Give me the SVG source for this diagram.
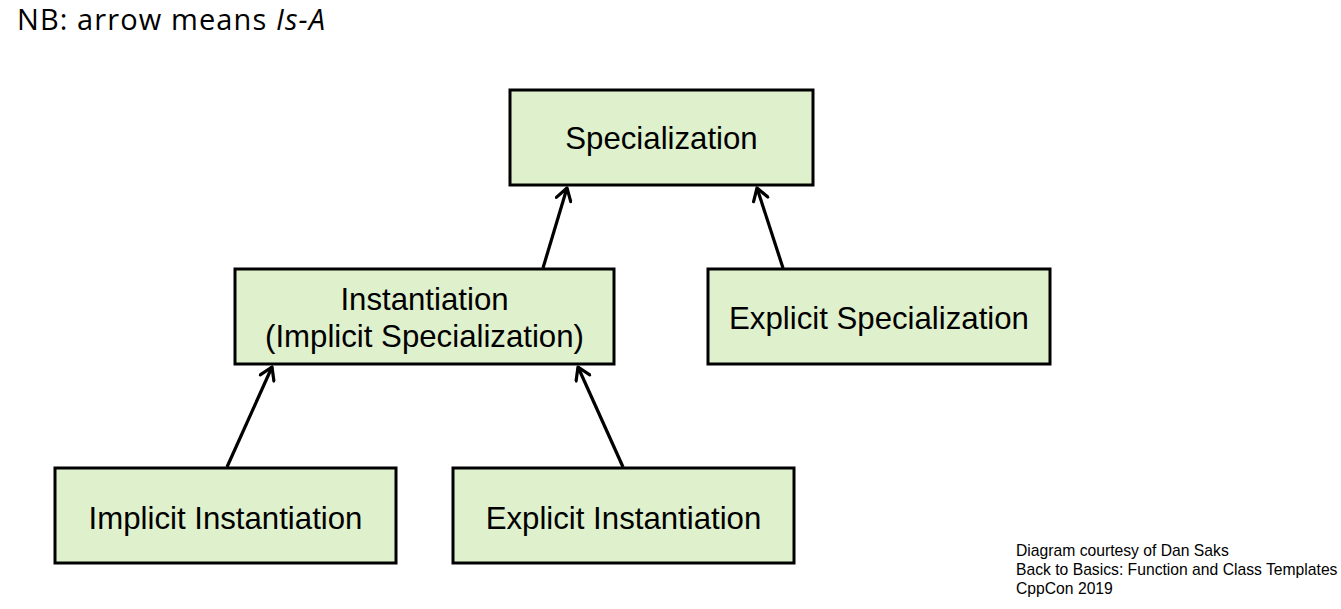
<svg xmlns="http://www.w3.org/2000/svg" width="1341" height="609" viewBox="0 0 1341 609">
<style>
.box{fill:#dff0cc;stroke:#000;stroke-width:3}
.lbl{font-family:"Liberation Sans",Arial,sans-serif;font-size:31.2px;fill:#000;text-anchor:middle}
.edge{stroke:#000;stroke-width:3.2;fill:none;marker-end:url(#arr)}
.foot{font-family:"Liberation Sans",Arial,sans-serif;font-size:15.7px;fill:#000}
</style>
<defs>
<marker id="arr" viewBox="0 0 16 18" refX="14" refY="9" markerWidth="16" markerHeight="18" markerUnits="userSpaceOnUse" orient="auto">
<path d="M2,1.5 L14,9 L2,16.5" fill="none" stroke="#000" stroke-width="3.2" stroke-linecap="round" stroke-linejoin="round"/>
</marker>
</defs>
<rect width="1341" height="609" fill="#fff"/>
<text x="17" y="29.5" font-family="'Open Sans','Noto Sans',sans-serif" font-size="29" letter-spacing="1.1" fill="#000">NB: arrow means <tspan font-style="italic">Is-A</tspan></text>
<g id="connectors">
<line class="edge" x1="543" y1="268" x2="567" y2="188"/>
<line class="edge" x1="783" y1="268" x2="757" y2="188"/>
<line class="edge" x1="227" y1="467" x2="272" y2="367"/>
<line class="edge" x1="623" y1="467" x2="578" y2="367"/>
</g>
<g id="specialization">
<rect class="box" x="510" y="90" width="303" height="95"/>
<text class="lbl" x="661.5" y="148.5">Specialization</text>
</g>
<g id="instantiation">
<rect class="box" x="235" y="269" width="379" height="95"/>
<text class="lbl" x="424.5" y="310">Instantiation</text>
<text class="lbl" x="424.5" y="347">(Implicit Specialization)</text>
</g>
<g id="explicit-specialization">
<rect class="box" x="708" y="269" width="342" height="95"/>
<text class="lbl" x="879" y="329">Explicit Specialization</text>
</g>
<g id="implicit-instantiation">
<rect class="box" x="55" y="468" width="341" height="95"/>
<text class="lbl" x="225.5" y="528.5">Implicit Instantiation</text>
</g>
<g id="explicit-instantiation">
<rect class="box" x="453" y="468" width="341" height="95"/>
<text class="lbl" x="623.5" y="528.5">Explicit Instantiation</text>
</g>
<g id="footer">
<text class="foot" x="1016" y="556">Diagram courtesy of Dan Saks</text>
<text class="foot" x="1016" y="575">Back to Basics: Function and Class Templates</text>
<text class="foot" x="1016" y="594">CppCon 2019</text>
</g>
</svg>
